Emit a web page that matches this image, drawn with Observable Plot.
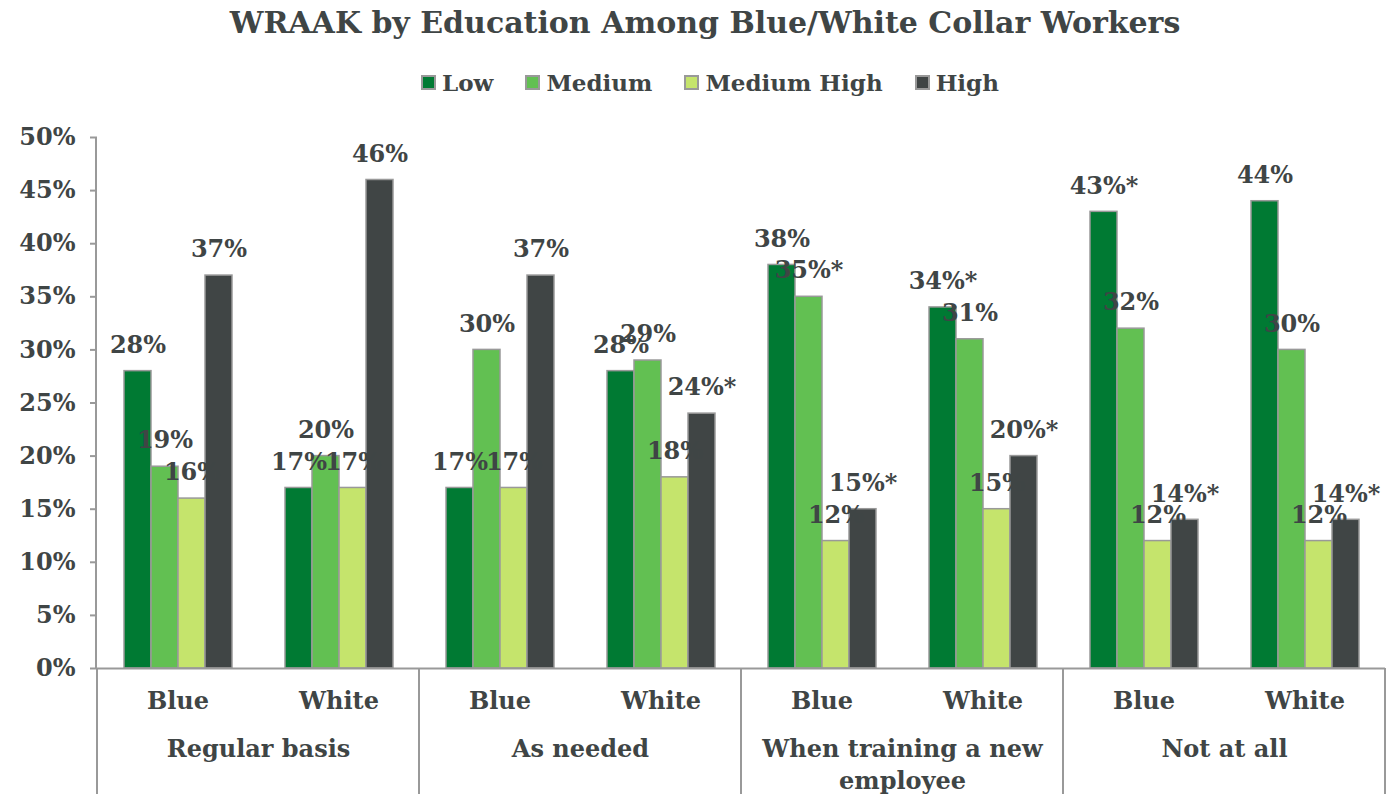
<!DOCTYPE html>
<html>
<head>
<meta charset="utf-8">
<script src="https://cdn.jsdelivr.net/npm/d3@7"></script>
<script src="https://cdn.jsdelivr.net/npm/@observablehq/plot@0.6"></script>
<style>
  html, body { margin: 0; padding: 0; background: #fff; }
  body { width: 1390px; height: 794px; overflow: hidden; font-family: "DejaVu Serif", Georgia, serif; color: #3f4545; }
  #title { height: 50px; line-height: 46px; text-align: center; font-size: 30px; font-weight: bold; padding-left: 20px; }
  #legend { height: 64px; display: flex; justify-content: center; align-items: center; gap: 32px; font-size: 23px; font-weight: bold; padding-left: 30px; box-sizing: border-box; }
  .item { display: flex; align-items: center; gap: 6px; }
  .sw { width: 11px; height: 11px; border: 2px solid #999; }
</style>
</head>
<body>
<div id="title">WRAAK by Education Among Blue/White Collar Workers</div>
<div id="legend"></div>
<div id="chart"></div>
<script>
const groups = ["Regular basis", "As needed", "When training a new employee", "Not at all"];
const collars = ["Blue", "White"];
const levels = ["Low", "Medium", "Medium High", "High"];
const colors = ["#007a33", "#62c052", "#c5e46c", "#404545"];

// values per level, in order: Regular Blue, Regular White, As needed Blue, As needed White,
// Training Blue, Training White, Not at all Blue, Not at all White
const lowValues        = [28, 17, 17, 28, 38, 34, 43, 44];
const mediumValues     = [19, 20, 30, 29, 35, 31, 32, 30];
const mediumHighValues = [16, 17, 17, 18, 12, 15, 12, 12];
const highValues       = [37, 46, 37, 24, 15, 20, 14, 14];
// significance markers (asterisks) per level
const lowStars        = ["", "", "", "", "", "*", "*", ""];
const mediumStars     = ["", "", "", "", "*", "", "", ""];
const mediumHighStars = ["", "", "", "", "", "", "", ""];
const highStars       = ["", "", "", "*", "*", "*", "*", "*"];
const yTicks = [0, 5, 10, 15, 20, 25, 30, 35, 40, 45, 50];

const series = [lowValues, mediumValues, mediumHighValues, highValues];
const stars = [lowStars, mediumStars, mediumHighStars, highStars];
const subgroups = [];
groups.forEach(g => collars.forEach(c => subgroups.push({group: g, collar: c, key: g + "|" + c})));

const data = [];
subgroups.forEach((s, i) => {
  levels.forEach((lv, j) => {
    data.push({key: s.key, group: s.group, collar: s.collar, level: lv, value: series[j][i], label: series[j][i] + "%" + stars[j][i]});
  });
});

const legend = document.getElementById("legend");
levels.forEach((lv, i) => {
  const it = document.createElement("div");
  it.className = "item";
  it.innerHTML = `<span class="sw" style="background:${colors[i]}"></span><span>${lv}</span>`;
  legend.appendChild(it);
});

const textColor = "#3f4545";
const gridColor = "#999";
const W = 1390, H = 680;
const mTop = 23, mBottom = 126, mLeft = 96, mRight = 5;

const chart = Plot.plot({
  width: W,
  height: H,
  marginLeft: mLeft,
  marginRight: mRight,
  marginTop: mTop,
  marginBottom: mBottom,
  style: {fontFamily: "'DejaVu Serif', Georgia, serif", fontSize: "22px", fontWeight: "bold", color: textColor, background: "#fff"},
  fx: {domain: subgroups.map(d => d.key), padding: 0, axis: null},
  x: {domain: levels, paddingInner: 0, paddingOuter: 0.98, axis: null},
  y: {domain: [0, 50], axis: null},
  color: {domain: levels, range: colors},
  marks: [
    Plot.axisY({ticks: yTicks, tickFormat: d => d + "%", label: null, tickSize: 7, tickPadding: 15, stroke: gridColor, strokeWidth: 2, fontSize: 24, fontWeight: "bold", fill: textColor}),
    Plot.barY(data, {fx: "key", x: "level", y: "value", fill: "level", stroke: gridColor, strokeWidth: 1.5}),
    Plot.ruleY([0], {stroke: gridColor, strokeWidth: 2}),
    Plot.text(data, {fx: "key", x: "level", y: "value", text: "label", dy: -26, fontSize: 24, fontWeight: "bold", fill: textColor}),
    Plot.text(subgroups, {fx: "key", text: "collar", frameAnchor: "bottom", dy: 40, fontSize: 24, fontWeight: "bold", fill: textColor}),
    Plot.text(subgroups.filter(d => d.collar === "Blue"), {fx: "key", text: "group", frameAnchor: "bottom-right", textAnchor: "middle", lineAnchor: "top", dy: 65, lineWidth: 12, lineHeight: 1.35, fontSize: 24, fontWeight: "bold", fill: textColor})
  ]
});

// group separators below the axis, positioned from the fx scale
const fx = chart.scale("fx");
const svg = d3.select(chart);
const y0 = H - mBottom;
const edges = subgroups.filter(d => d.collar === "Blue").map(d => fx.apply(d.key));
edges.push(W - mRight);
// y axis line
svg.append("line").attr("x1", mLeft).attr("x2", mLeft).attr("y1", mTop).attr("y2", y0).attr("stroke", gridColor).attr("stroke-width", 2);
edges.forEach(x => {
  svg.append("line").attr("x1", x).attr("x2", x).attr("y1", y0).attr("y2", H).attr("stroke", gridColor).attr("stroke-width", 2);
});
document.getElementById("chart").appendChild(chart);
</script>
</body>
</html>
